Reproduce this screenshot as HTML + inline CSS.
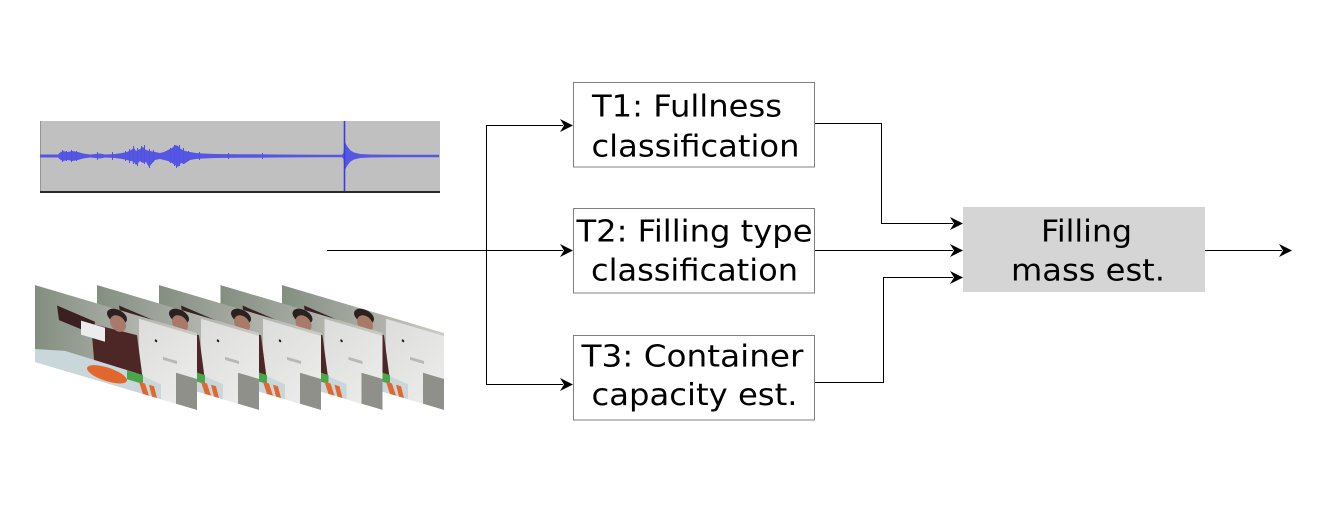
<!DOCTYPE html>
<html>
<head>
<meta charset="utf-8">
<style>
  html, body { margin:0; padding:0; background:#fff; }
  body { width:1320px; height:508px; overflow:hidden; }
  svg { display:block; }
  text { font-family: "DejaVu Sans", "Liberation Sans", sans-serif; font-size:30.5px; fill:#000; }
</style>
</head>
<body>
<svg width="1320" height="508" viewBox="0 0 1320 508" xmlns="http://www.w3.org/2000/svg">
  <defs>
    <linearGradient id="wall" x1="0" y1="0" x2="1" y2="0">
      <stop offset="0" stop-color="#838e80"/>
      <stop offset="0.5" stop-color="#a6ab a2"/>
      <stop offset="1" stop-color="#cbccc7"/>
    </linearGradient>
    <linearGradient id="wall2" x1="0" y1="0" x2="1" y2="0">
      <stop offset="0" stop-color="#838e80"/>
      <stop offset="0.5" stop-color="#a6aba2"/>
      <stop offset="1" stop-color="#cbccc7"/>
    </linearGradient>
    <linearGradient id="board" x1="0" y1="0" x2="1" y2="1">
      <stop offset="0" stop-color="#dcdcda"/>
      <stop offset="1" stop-color="#eeeeec"/>
    </linearGradient>
    <clipPath id="fclip"><rect x="0" y="0" width="162" height="77"/></clipPath>
    <g id="frame">
      <g clip-path="url(#fclip)">
        <rect x="0" y="0" width="162" height="77" fill="url(#wall2)"/>
        <rect x="104" y="3" width="58" height="74" fill="url(#board)"/>
        <rect x="141" y="46" width="21" height="31" fill="#8f908a"/>
        <rect x="128" y="34" width="14" height="3" fill="#b8b8b4"/>
        <circle cx="121" cy="20" r="1.3" fill="#222"/>
        <path d="M22,14 L60,19 L58,32 L24,28Z" fill="#3a2020"/>
        <path d="M56,22 L102,20 L108,64 L60,68 Z" fill="#4d2626"/>
        <rect x="46" y="22" width="24" height="14" fill="#ececec"/>
        <ellipse cx="82" cy="7" rx="10" ry="7" fill="#2b211f"/>
        <ellipse cx="83" cy="14" rx="8" ry="8" fill="#a9796a"/>
        <path d="M0,64 L30,57 L100,58 L126,62 L126,77 L0,77Z" fill="#c9d6da"/>
        <ellipse cx="72" cy="68" rx="20" ry="7" fill="#e0672e"/>
        <rect x="92" y="58" width="16" height="9" fill="#4aa64a"/>
        <path d="M104,66 L110,66 L114,77 L108,77Z" fill="#e0672e"/>
        <path d="M114,66 L119,66 L122,77 L117,77Z" fill="#e0672e"/>
      </g>
    </g>
  </defs>

  <!-- waveform -->
  <rect x="40" y="121" width="400" height="72" fill="#c0c0c0"/>
  <rect x="40" y="121" width="1" height="72" fill="#9c9292"/>
  <rect x="40" y="191" width="400" height="2" fill="#2a2a2a"/>
  <polygon fill="#5656e4" points="
    40,154.5 58,154.5 60,152.5 63,151 68,152 72,151 78,152 83,153.5 90,154.5 100,153.5 105,154.5 115,154 122,153 127,152 131,150 134,148 136,151 140,149 143,147 146,150 150,151 155,152 160,153 164,152 168,150 172,148 175,145 178,146 181,149 185,151 190,152 196,153 203,153.5 215,154 240,154.2 280,154.5 320,154.7 342,154.8 343.5,153 345,142 347,146 350,150 354,152.5 360,154 370,154.5 400,154.7 439,154.7
    439,157.3 400,157.3 370,157.5 360,158 354,159.5 350,162 347,166 345,170 343.5,159 342,157.2 320,157.3 280,157.5 240,157.8 215,158 203,158.5 196,159 190,160 184,164 181,163 178,167 175,165 172,163 168,161 164,160 160,159 155,160 149,167 146,162 143,163 140,161 136,165 134,162 131,161 127,160 122,159 115,158 105,157.5 100,158.5 90,157.5 83,158.5 78,160 72,161 68,160 63,161 60,159.5 58,157.5 40,157.5"/>
  <g stroke="#5252e2" stroke-width="1">
    <line x1="62.5" y1="150" x2="62.5" y2="162"/>
    <line x1="66.5" y1="151" x2="66.5" y2="161"/>
    <line x1="71.5" y1="150" x2="71.5" y2="162"/>
    <line x1="76.5" y1="151" x2="76.5" y2="161"/>
    <line x1="97.5" y1="152" x2="97.5" y2="160"/>
    <line x1="112.5" y1="152" x2="112.5" y2="160"/>
    <line x1="125.5" y1="151" x2="125.5" y2="161"/>
    <line x1="129.5" y1="149" x2="129.5" y2="163"/>
    <line x1="133.5" y1="146" x2="133.5" y2="164"/>
    <line x1="137.5" y1="148" x2="137.5" y2="166"/>
    <line x1="141.5" y1="146" x2="141.5" y2="162"/>
    <line x1="144.5" y1="145" x2="144.5" y2="164"/>
    <line x1="149.5" y1="149" x2="149.5" y2="168"/>
    <line x1="153.5" y1="150" x2="153.5" y2="162"/>
    <line x1="170.5" y1="148" x2="170.5" y2="163"/>
    <line x1="174.5" y1="145" x2="174.5" y2="166"/>
    <line x1="176.5" y1="146" x2="176.5" y2="168"/>
    <line x1="179.5" y1="145" x2="179.5" y2="166"/>
    <line x1="183.5" y1="148" x2="183.5" y2="164"/>
    <line x1="188.5" y1="151" x2="188.5" y2="161"/>
    <line x1="199.5" y1="152" x2="199.5" y2="160"/>
    <line x1="228.5" y1="153" x2="228.5" y2="159"/>
    <line x1="262.5" y1="153" x2="262.5" y2="159"/>
  </g>
  <line x1="344.5" y1="121" x2="344.5" y2="191" stroke="#3c3ce0" stroke-width="1.6"/>

  <!-- video frames (back to front) -->
  <g transform="matrix(1,0.296,0,1,282,285)"><use href="#frame"/></g>
  <g transform="matrix(1,0.296,0,1,220.5,285)"><use href="#frame"/></g>
  <g transform="matrix(1,0.296,0,1,159,285)"><use href="#frame"/></g>
  <g transform="matrix(1,0.296,0,1,97,285)"><use href="#frame"/></g>
  <g transform="matrix(1,0.296,0,1,35,285)"><use href="#frame"/></g>

  <!-- connectors -->
  <g stroke="#000" stroke-width="1" fill="none">
    <line x1="327" y1="250.5" x2="563" y2="250.5"/>
    <line x1="486.5" y1="125.5" x2="486.5" y2="385"/>
    <line x1="486" y1="125.5" x2="563" y2="125.5"/>
    <line x1="486" y1="384.5" x2="563" y2="384.5"/>
    <polyline points="815,123.5 881.5,123.5 881.5,223.5 953,223.5"/>
    <line x1="815" y1="250.5" x2="953" y2="250.5"/>
    <polyline points="815,382.5 883.5,382.5 883.5,277.5 953,277.5"/>
    <line x1="1205" y1="250.5" x2="1282" y2="250.5"/>
  </g>
  <g fill="#000">
    <path d="M573,125.5 L560,119 L564,125.5 L560,132 Z"/>
    <path d="M573,250.5 L560,244 L564,250.5 L560,257 Z"/>
    <path d="M573,384.5 L560,378 L564,384.5 L560,391 Z"/>
    <path d="M963,223.5 L950,217 L954,223.5 L950,230 Z"/>
    <path d="M963,250.5 L950,244 L954,250.5 L950,257 Z"/>
    <path d="M963,277.5 L950,271 L954,277.5 L950,284 Z"/>
    <path d="M1292,250.5 L1279,244 L1283,250.5 L1279,257 Z"/>
  </g>

  <!-- task boxes -->
  <g fill="#fff" stroke="#808080" stroke-width="1">
    <rect x="573.5" y="82.5" width="241" height="84.5"/>
    <rect x="573.5" y="208.5" width="241" height="84.5"/>
    <rect x="573.5" y="335.5" width="241" height="84.5"/>
  </g>
  <rect x="963" y="207" width="242" height="85" fill="#d5d5d5"/>

  <!-- labels -->
  <text x="592" y="116.7" textLength="190" lengthAdjust="spacingAndGlyphs">T1: Fullness</text>
  <text x="591.5" y="156.7" textLength="208" lengthAdjust="spacingAndGlyphs">classification</text>

  <text x="576.5" y="241.3" textLength="236" lengthAdjust="spacingAndGlyphs">T2: Filling type</text>
  <text x="591" y="280.5" textLength="207" lengthAdjust="spacingAndGlyphs">classification</text>

  <text x="581.5" y="366.3" textLength="222" lengthAdjust="spacingAndGlyphs">T3: Container</text>
  <text x="591.5" y="405" textLength="206" lengthAdjust="spacingAndGlyphs">capacity est.</text>

  <text x="1041" y="241.7" textLength="91" lengthAdjust="spacingAndGlyphs">Filling</text>
  <text x="1011" y="280.5" textLength="154" lengthAdjust="spacingAndGlyphs">mass est.</text>
</svg>
</body>
</html>
